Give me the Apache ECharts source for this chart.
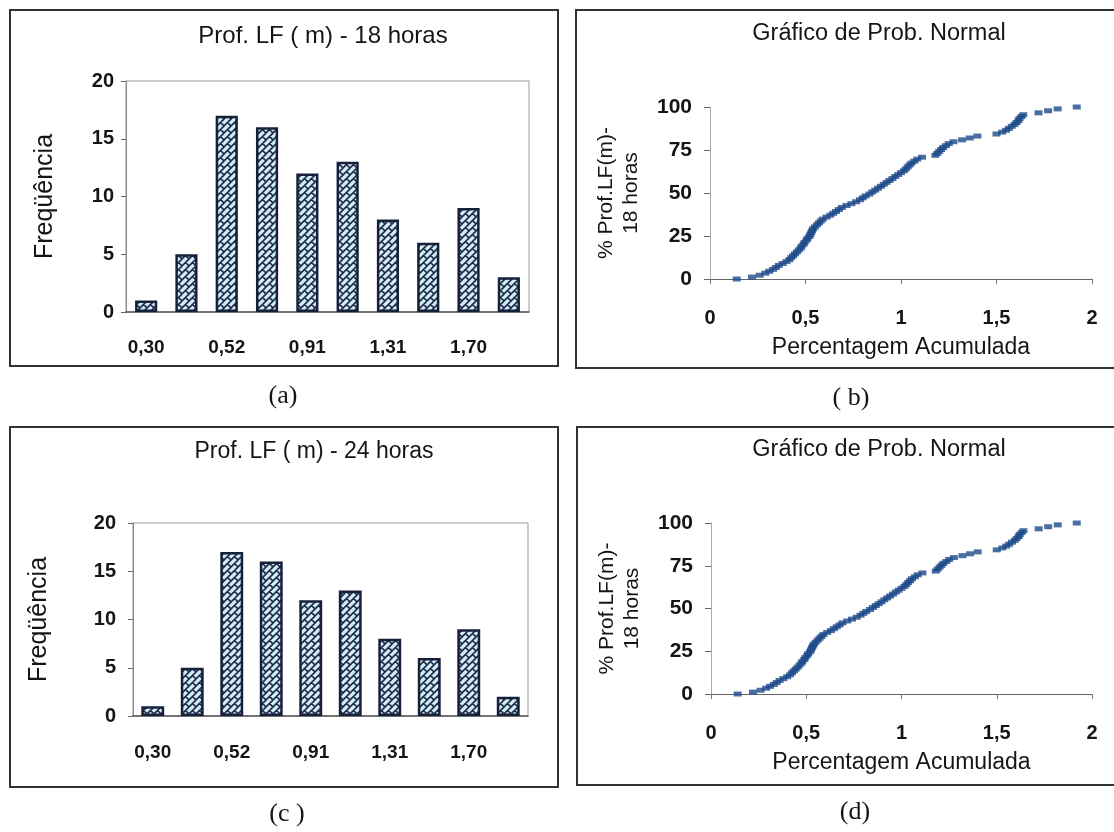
<!DOCTYPE html>
<html lang="pt">
<head>
<meta charset="UTF-8">
<title>Prof. LF (m)</title>
<script src="https://cdn.jsdelivr.net/npm/echarts@6/dist/echarts.min.js"></script>
<style>
  html, body { margin: 0; padding: 0; background: #fff; }
  #main { width: 1114px; height: 832px; }
</style>
</head>
<body>
<div id="main"></div>
<script>
  // histogram bins (only every other bin is labelled in the original)
  const binLabels = ['0,30', '', '0,52', '', '0,91', '', '1,31', '', '1,70', ''];
  const freq18 = [1, 5, 17, 16, 12, 13, 8, 6, 9, 3];
  const freq24 = [1, 5, 17, 16, 12, 13, 8, 6, 9, 2];

  // normal probability plot
  const probX = [
    0.14, 0.22, 0.26, 0.29, 0.31, 0.33, 0.345, 0.36, 0.38, 0.40,
    0.415, 0.425, 0.435, 0.445, 0.455, 0.465, 0.475, 0.48, 0.49, 0.495,
    0.505, 0.51, 0.52, 0.525, 0.53, 0.535, 0.54, 0.55, 0.56, 0.57,
    0.58, 0.59, 0.61, 0.63, 0.645, 0.66, 0.675, 0.69, 0.715, 0.74,
    0.765, 0.785, 0.80, 0.815, 0.835, 0.85, 0.865, 0.88, 0.895, 0.91,
    0.925, 0.94, 0.955, 0.97, 0.985, 1.0, 1.015, 1.025, 1.035, 1.045,
    1.055, 1.07, 1.085, 1.11, 1.18, 1.19, 1.20, 1.21, 1.22, 1.235,
    1.25, 1.275, 1.32, 1.36, 1.40, 1.50, 1.53, 1.55, 1.565, 1.58,
    1.595, 1.605, 1.615, 1.62, 1.63, 1.64, 1.72, 1.77, 1.82, 1.92
  ];
  const probY = [
    0, 1.1, 2.2, 3.4, 4.5, 5.6, 6.7, 7.9, 9.0, 10.1,
    11.2, 12.4, 13.5, 14.6, 15.7, 16.9, 18.0, 19.1, 20.2, 21.3,
    22.5, 23.6, 24.7, 25.8, 27.0, 28.1, 29.2, 30.3, 31.5, 32.6,
    33.7, 34.8, 36.0, 37.1, 38.2, 39.3, 40.4, 41.6, 42.7, 43.8,
    44.9, 46.1, 47.2, 48.3, 49.4, 50.6, 51.7, 52.8, 53.9, 55.1,
    56.2, 57.3, 58.4, 59.6, 60.7, 61.8, 62.9, 64.0, 65.2, 66.3,
    67.4, 68.5, 69.7, 70.8, 71.9, 73.0, 74.2, 75.3, 76.4, 77.5,
    78.7, 79.8, 80.9, 82.0, 83.1, 84.3, 85.4, 86.5, 87.6, 88.8,
    89.9, 91.0, 92.1, 93.3, 94.4, 95.5, 96.6, 97.8, 98.9, 100
  ];

  const font = 'Liberation Sans, Arial, sans-serif';
  const serif = 'Liberation Serif, Times New Roman, serif';
  const ink = '#151515';

  // hatched fill like the old excel pattern
  function hatch() {
    var c = document.createElement('canvas');
    c.width = 7; c.height = 7;
    var g = c.getContext('2d');
    g.fillStyle = '#d0ebf6';
    g.fillRect(0, 0, 7, 7);
    g.strokeStyle = '#1f2a44';
    g.lineWidth = 1.6;
    g.beginPath();
    g.moveTo(-1, 8); g.lineTo(8, -1);
    g.moveTo(-1, 1); g.lineTo(1, -1);
    g.moveTo(6, 8); g.lineTo(8, 6);
    g.moveTo(3.5, 3.5); g.lineTo(7, 7);
    g.stroke();
    return c;
  }
  const pattern = { image: hatch(), repeat: 'repeat' };

  const pairs = probX.map(function (x, i) { return [x, probY[i]]; });

  function tickText(size) {
    return { color: ink, fontFamily: font, fontSize: size, fontWeight: 'bold' };
  }

  function barX(grid, margin) {
    return {
      type: 'category', gridIndex: grid, data: binLabels,
      axisLine: { lineStyle: { color: '#555', width: 1.5 } },
      axisTick: { interval: 0, length: 5, lineStyle: { color: '#555' } },
      axisLabel: Object.assign({ interval: 0, margin: margin }, tickText(19)),
      splitLine: { show: false }
    };
  }
  function barY(grid, gap, margin) {
    return {
      type: 'value', gridIndex: grid, min: 0, max: 20, interval: 5,
      name: 'Freqüência', nameLocation: 'middle', nameGap: gap,
      nameTextStyle: { color: ink, fontFamily: font, fontSize: 25 },
      axisLine: { show: true, lineStyle: { color: '#888' } },
      axisTick: { show: true, length: 5, lineStyle: { color: '#666' } },
      axisLabel: Object.assign({ margin: margin }, tickText(20)),
      splitLine: { show: false }
    };
  }
  function probXAxis(grid) {
    return {
      type: 'value', gridIndex: grid, min: 0, max: 2, interval: 0.5,
      name: 'Percentagem Acumulada', nameLocation: 'middle', nameGap: 57,
      nameTextStyle: { color: ink, fontFamily: font, fontSize: 23 },
      axisLine: { show: true, lineStyle: { color: '#666' } },
      axisTick: { show: true, length: 5, lineStyle: { color: '#777' } },
      axisLabel: Object.assign({
        margin: 29,
        formatter: function (v) { return String(v).replace('.', ','); }
      }, tickText(20)),
      splitLine: { show: false }
    };
  }
  function probYAxis(grid) {
    return {
      type: 'value', gridIndex: grid, min: 0, max: 100, interval: 25,
      name: '% Prof.LF(m)-\n18 horas', nameLocation: 'middle', nameGap: 66,
      nameTextStyle: { color: ink, fontFamily: font, fontSize: 21, lineHeight: 25 },
      axisLine: { show: true, lineStyle: { color: '#aaa' } },
      axisTick: { show: true, length: 6, lineStyle: { color: '#666' } },
      axisLabel: Object.assign({ margin: 18 }, tickText(21)),
      splitLine: { show: false }
    };
  }
  function box(x, y, w, h) {
    return {
      type: 'rect', shape: { x: x, y: y, width: w, height: h },
      style: { fill: 'none', stroke: '#333', lineWidth: 2 }, silent: true
    };
  }
  function label(text, x, y, size, family) {
    return {
      type: 'text', x: x, y: y, silent: true,
      style: {
        text: text, fill: ink, fontSize: size, fontFamily: family,
        align: 'center', verticalAlign: 'middle'
      }
    };
  }

  var chart = echarts.init(document.getElementById('main'));
  var option = {
    animation: false,
    grid: [
      { left: 126, top: 81, width: 403, height: 231, show: true, borderColor: '#999', borderWidth: 1 },
      { left: 710, top: 107, width: 382, height: 172 },
      { left: 133, top: 523, width: 395, height: 193, show: true, borderColor: '#999', borderWidth: 1 },
      { left: 711, top: 523, width: 381, height: 171 }
    ],
    xAxis: [barX(0, 26), probXAxis(1), barX(2, 27), probXAxis(3)],
    yAxis: [barY(0, 68, 12), probYAxis(1), barY(2, 81, 17), probYAxis(3)],
    series: [
      {
        type: 'bar', xAxisIndex: 0, yAxisIndex: 0, data: freq18, barCategoryGap: '45%',
        itemStyle: { color: pattern, borderColor: '#16203a', borderWidth: 2.5 }
      },
      {
        type: 'scatter', xAxisIndex: 1, yAxisIndex: 1, data: pairs,
        symbol: 'rect', symbolSize: [8, 5], itemStyle: { color: '#1d4a8a' }
      },
      {
        type: 'bar', xAxisIndex: 2, yAxisIndex: 2, data: freq24, barCategoryGap: '42%',
        itemStyle: { color: pattern, borderColor: '#16203a', borderWidth: 2.5 }
      },
      {
        type: 'scatter', xAxisIndex: 3, yAxisIndex: 3, data: pairs,
        symbol: 'rect', symbolSize: [8, 5], itemStyle: { color: '#1d4a8a' }
      }
    ],
    graphic: [
      box(10, 10, 548, 356),
      box(576, 10, 545, 358),
      box(10, 427, 548, 360),
      box(577, 427, 545, 358),
      label('Prof. LF ( m) - 18 horas', 323, 36, 24, font),
      label('Gráfico de Prob. Normal', 879, 34, 23.5, font),
      label('Prof. LF ( m) - 24 horas', 314, 452, 23, font),
      label('Gráfico de Prob. Normal', 879, 450, 23.5, font),
      label('(a)', 283, 396, 26, serif),
      label('( b)', 851, 398, 26, serif),
      label('(c )', 287, 814, 26, serif),
      label('(d)', 855, 812, 26, serif)
    ]
  };
  chart.setOption(option);
</script>
</body>
</html>
